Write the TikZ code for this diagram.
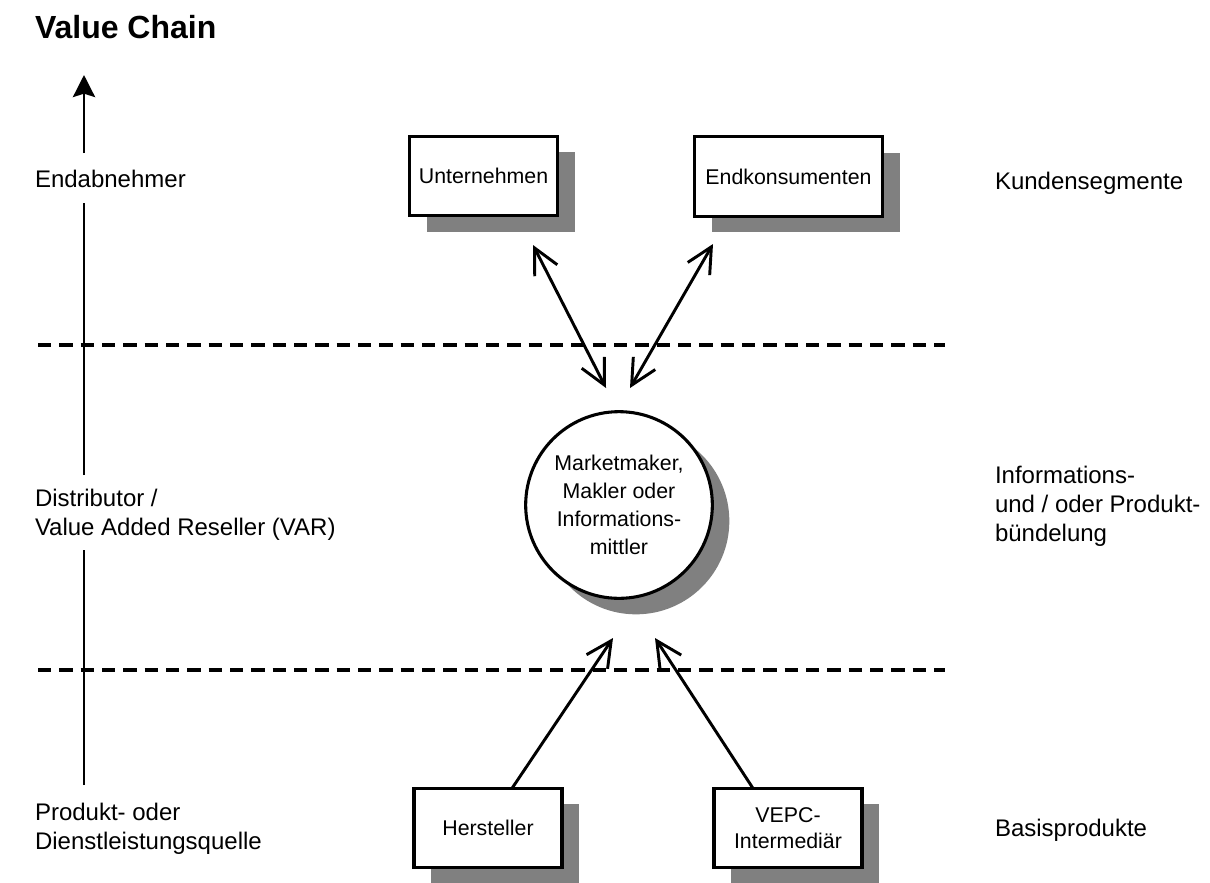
\documentclass[tikz,border=0pt]{standalone}
\usepackage{fontspec}
\setmainfont{Liberation Sans}
\usetikzlibrary{arrows.meta,shadows,calc}
\definecolor{shadowgray}{RGB}{128,128,128}

\begin{document}
\begin{tikzpicture}[x=0.75pt,y=-0.75pt,
  every node/.style={inner sep=0pt, outer sep=0pt},
  shade box/.style={drop shadow={shadow xshift=12.75pt, shadow yshift=-12pt, fill=shadowgray, opacity=1}},
  box/.style={draw=black, line width=2.3pt, fill=white, minimum width=111pt, minimum height=59.5pt,
    align=center, font=\fontsize{16}{20}\selectfont, shade box},
  hub/.style={circle, draw=black, line width=2.3pt, fill=white, minimum size=140pt,
    align=center, font=\fontsize{16}{21}\selectfont, shade box},
  lbl/.style={anchor=west, align=left, font=\fontsize{18}{21.75}\selectfont},
  flow/.style={line width=2.2pt, -{Straight Barb[length=19pt, width=19pt]}},
  both/.style={line width=2.2pt, {Straight Barb[length=19pt, width=19pt]}-{Straight Barb[length=19pt, width=19pt]}},
  level/.style={line width=2.3pt, dash pattern=on 10pt off 6pt},
  axis/.style={line width=2.2pt},
]
\useasboundingbox (0,0) rectangle (1210,882);

% title
\node[anchor=base west, font=\fontsize{24}{28}\selectfont\bfseries] (title) at (35,38) {Value Chain};

% level separators
\coordinate (s1a) at (38,345);  \coordinate (s1b) at (945,345);
\coordinate (s2a) at (38,670);  \coordinate (s2b) at (945,670);
\draw[level] (s1a) -- (s1b);
\draw[level] (s2a) -- (s2b);

% value chain axis with its stage labels
\node[lbl] (endab) at (35,179) {Endabnehmer};
\node[lbl] (dist) at (35,515) {Distributor /\\Value Added Reseller (VAR)};
\node[lbl] (prod) at (35,829) {Produkt- oder\\Dienstleistungsquelle};
\coordinate (axB) at (84,785);
\coordinate (axDistB) at (84,550);
\coordinate (axDistT) at (84,475);
\coordinate (axEndB) at (84,203);
\coordinate (axEndT) at (84,153);
\coordinate (axTop) at (84,75);
\draw[axis] (axB) -- (axDistB);
\draw[axis] (axDistT) -- (axEndB);
\draw[axis, -{Stealth[length=16.5pt, width=16.5pt, inset=2.5pt]}] (axEndT) -- (axTop);

% right-hand segment labels
\node[lbl] (kund) at (995,183) {Kundensegmente};
\node[lbl] (buend) at (995,506) {Informations-\\und / oder Produkt-\\bündelung};
\node[lbl] (basis) at (995,830) {Basisprodukte};

% actors
\node[box] (unt) at (483.5,176) {Unternehmen};
\node[box, minimum width=141pt] (endk) at (788.5,176.5) {Endkonsumenten};
\node[hub] (mm) at (619,505) {Marketmaker,\\Makler oder\\Informations-\\mittler};
\node[box] (hers) at (488,828) {Hersteller};
\node[box] (vepc) at (788,828) {VEPC-\\Intermediär};

% flows between the levels
\coordinate (u1) at (533,245);  \coordinate (u2) at (606,388);
\coordinate (k1) at (713,244);  \coordinate (k2) at (630,388);
\coordinate (h1) at ($(hers.north)+(24,0)$);  \coordinate (h2) at (613,638);
\coordinate (v1) at ($(vepc.north)+(-35,0)$); \coordinate (v2) at (655,638);
\draw[both] (u1) -- (u2);
\draw[both] (k1) -- (k2);
\draw[flow] (h1) -- (h2);
\draw[flow] (v1) -- (v2);
\end{tikzpicture}
\end{document}
